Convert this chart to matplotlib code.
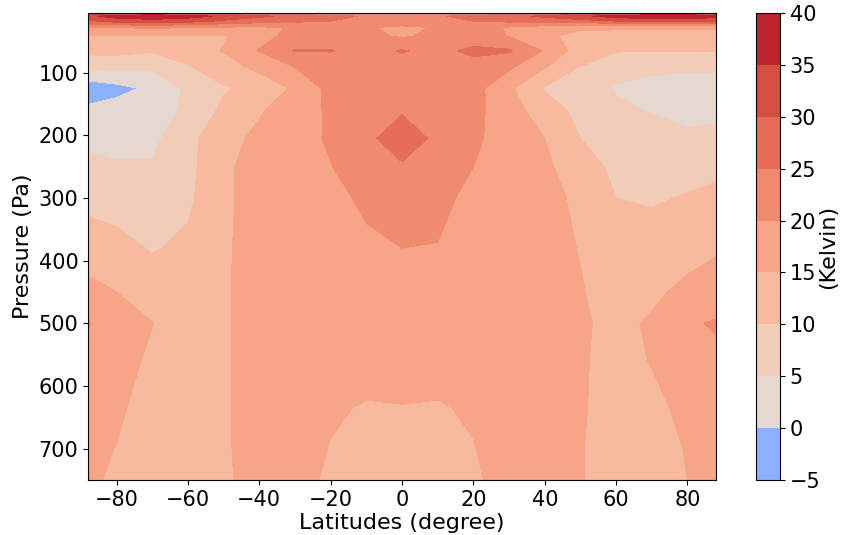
import numpy as np
import matplotlib
matplotlib.use("Agg")
import matplotlib.pyplot as plt
from matplotlib.colors import TwoSlopeNorm

# Zonal-mean temperature anomaly (K) on a latitude / pressure grid
latitudes = [-88, -80, -70, -60, -50, -40, -30, -20, -10, 0,
             10, 20, 30, 40, 50, 60, 70, 80, 88]
pressures = [5, 10, 18, 28, 42, 65, 90, 125, 160, 205,
             250, 300, 380, 450, 500, 560, 635, 700, 750]

t_p005 = [27, 29, 30, 29, 27, 25, 22, 20, 18.5, 18, 18.5, 20, 22, 25, 27, 29, 30, 30, 29]
t_p010 = [34, 37, 38.5, 37, 34, 31, 28.5, 26.5, 24.5, 24, 24.5, 26.5, 28.5, 31, 34, 37, 38.5, 38.5, 37]
t_p018 = [29, 32, 33, 32, 29, 27, 26, 25, 23.5, 23, 23.5, 25, 26, 27, 28, 30, 32, 32, 30]
t_p028 = [20, 20.3, 20.5, 20.3, 19.5, 19.3, 20.3, 22, 20.4, 19, 20.4, 22, 19.5, 17.5, 15.8, 15.8, 15.8, 15.8, 15.8]
t_p042 = [14.7, 14.5, 14.3, 14.5, 14.5, 18, 22, 22.5, 21, 19.5, 21, 22.5, 19.8, 16, 13.5, 13, 13, 13, 13]
t_p065 = [11.5, 11.5, 10.5, 12.5, 15.3, 20.3, 25.3, 25.2, 23.5, 25.3, 23.8, 26, 25.6, 19.5, 12.5, 10.3, 10.2, 10.2, 10.3]
t_p090 = [6, 6.5, 6, 9.7, 13, 16.5, 20.2, 23, 23, 23.5, 23.5, 23.5, 21, 15.5, 10, 7, 6.5, 6, 6]
t_p125 = [-3, -1.5, 1, 6, 9.5, 11.5, 15.8, 21.5, 22.5, 23.5, 23, 22, 15.8, 9.5, 8, 4.5, 3, 2.5, 2.5]
t_p160 = [1, 2, 2.5, 6, 11, 14.5, 17.5, 20.8, 24, 24.5, 24, 21.5, 17, 12.5, 8.5, 6, 4.7, 3.5, 3.5]
t_p205 = [4, 4, 3.8, 8.5, 13.5, 16, 17.5, 20.8, 24, 27.5, 24, 21, 17.5, 15, 10, 8, 7, 6, 6.5]
t_p250 = [6, 5.3, 5.5, 8.5, 14.3, 16.5, 17.5, 19.8, 23.5, 24.5, 23.5, 20, 17.5, 16, 12, 9, 8.5, 8.5, 9]
t_p300 = [8.5, 8, 7.5, 9, 14.3, 16.5, 17.5, 18.5, 21, 22, 21.5, 18.5, 17.5, 16.5, 14, 10, 9.5, 10.3, 11]
t_p380 = [12.5, 11.5, 9.6, 11, 14.5, 16.5, 17, 17.5, 19, 20, 19.8, 17.5, 17.3, 16.5, 14.8, 11.5, 12, 13.5, 14.5]
t_p450 = [16.5, 15, 12.5, 12, 14.6, 16.5, 17, 17, 17.5, 18, 17.5, 17, 17, 16.5, 15.3, 13, 14.2, 16, 17]
t_p500 = [20.3, 17.5, 15.1, 13, 14.6, 16.5, 17, 16.5, 17, 17.2, 16.8, 16.5, 17, 16.5, 15.5, 14, 15.5, 19.3, 20.5]
t_p560 = [18.5, 16.5, 14.3, 13, 14.6, 16.5, 17, 16, 16, 16.2, 16, 16, 16.8, 16.5, 15.5, 13.5, 15.2, 17, 18.8]
t_p635 = [17, 15.6, 13.5, 12.5, 14.6, 16.5, 16.5, 15.3, 14.8, 14.9, 14.8, 15.3, 16.5, 16.5, 15.5, 13, 14, 16, 17]
t_p700 = [16, 14.9, 13, 12.3, 14.6, 16.3, 16, 14.9, 14.2, 14, 14.2, 14.9, 16.2, 16.3, 15.3, 12.5, 13, 15.3, 16]
t_p750 = [15.5, 14.5, 12.8, 12.2, 14.6, 16, 16, 14.5, 14, 13.8, 14, 14.6, 16, 16, 15.3, 12.3, 12.5, 15, 15.5]

levels = list(range(-5, 41, 5))
pressure_ticks = [100, 200, 300, 400, 500, 600, 700]
latitude_ticks = [-80, -60, -40, -20, 0, 20, 40, 60, 80]

temperature = np.array([t_p005, t_p010, t_p018, t_p028, t_p042, t_p065, t_p090,
                        t_p125, t_p160, t_p205, t_p250, t_p300, t_p380, t_p450,
                        t_p500, t_p560, t_p635, t_p700, t_p750])

fig = plt.figure(figsize=(8.43, 5.35), dpi=100)
ax = fig.add_axes([0.1044, 0.1028, 0.7450, 0.8729])
cax = fig.add_axes([0.8968, 0.1028, 0.0285, 0.8729])

norm = TwoSlopeNorm(vmin=-5, vcenter=0, vmax=40)
cf = ax.contourf(latitudes, pressures, temperature, levels=levels,
                 cmap="coolwarm", norm=norm)

ax.set_xlim(latitudes[0], latitudes[-1])
ax.set_ylim(pressures[-1], pressures[0])
ax.set_xticks(latitude_ticks)
ax.set_yticks(pressure_ticks)
ax.tick_params(labelsize=15)
ax.set_xlabel("Latitudes (degree)", fontsize=16, labelpad=2)
ax.set_ylabel("Pressure (Pa)", fontsize=16)

cbar = fig.colorbar(cf, cax=cax, ticks=levels)
cbar.ax.tick_params(labelsize=15)
cbar.set_label("(Kelvin)", fontsize=16, labelpad=-2)

fig.savefig("out.png", dpi=100)
